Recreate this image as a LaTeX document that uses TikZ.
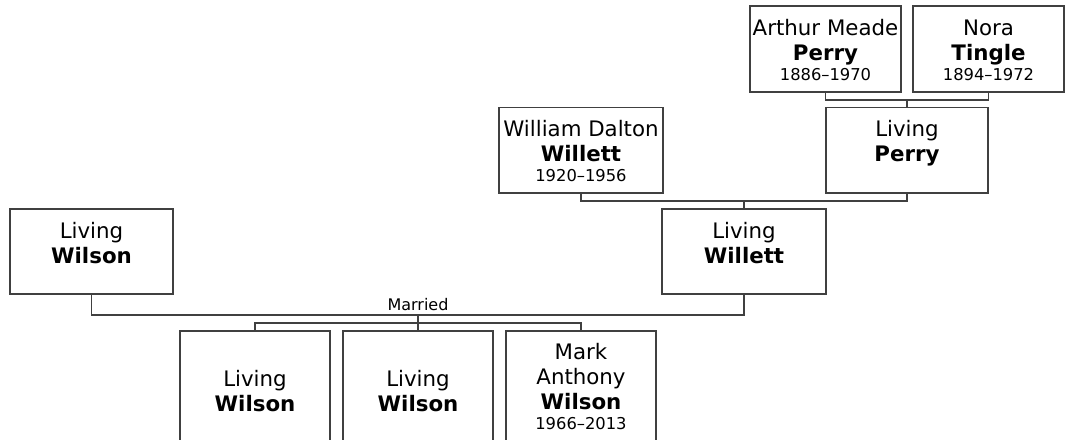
\documentclass[tikz,border=0pt]{standalone}
\usepackage{fontspec}
\setmainfont{DejaVu Sans}
\usetikzlibrary{calc}
\definecolor{linec}{HTML}{404040}
\newcommand\bigfnt{\fontsize{16pt}{18.75pt}\selectfont}
\newcommand\datefnt{\fontsize{12.25pt}{15pt}\selectfont}
\newcommand\smallfnt{\fontsize{12pt}{15pt}\selectfont}
\newcommand\pcontent[4]{\parbox[c][#2][t]{#1}{\centering\rule{0pt}{#3}#4}}
\newcommand\dline[1]{\\[-3.75pt]{\datefnt #1}}
\tikzset{
  person/.style={draw=linec, line width=1.125pt, inner sep=0pt, outer sep=0pt,
    anchor=north west, rectangle, font=\bigfnt, text=black},
  conn/.style={draw=linec, line width=1.125pt},
}
\begin{document}
\begin{tikzpicture}[x=0.75pt, y=-0.75pt]
\useasboundingbox (0,0) rectangle (1066,439);
\clip (0,0) rectangle (1066,439);
% grandparents
\node[person, minimum width=113.25pt, minimum height=64.5pt] (arthur) at (750,6)
  {\pcontent{113.25pt}{64.5pt}{21.75pt}{Arthur Meade\\\textbf{Perry}\dline{1886–1970}}};
\node[person, minimum width=113.25pt, minimum height=64.5pt] (nora) at (913,6)
  {\pcontent{113.25pt}{64.5pt}{21.75pt}{Nora\\\textbf{Tingle}\dline{1894–1972}}};
% parents
\node[person, minimum width=123pt, minimum height=64.125pt] (william) at (499,107.5)
  {\pcontent{123pt}{64.125pt}{21.75pt}{William Dalton\\\textbf{Willett}\dline{1920–1956}}};
\node[person, minimum width=121.5pt, minimum height=64.125pt] (perry) at (826,107.5)
  {\pcontent{121.5pt}{64.125pt}{21.75pt}{Living\\\textbf{Perry}}};
% couple
\node[person, minimum width=122.25pt, minimum height=63.75pt] (wilson) at (10,209)
  {\pcontent{122.25pt}{63.75pt}{21.75pt}{Living\\\textbf{Wilson}}};
\node[person, minimum width=123pt, minimum height=63.75pt] (willett) at (662,209)
  {\pcontent{123pt}{63.75pt}{21.75pt}{Living\\\textbf{Willett}}};
% children
\node[person, minimum width=112.5pt, minimum height=91.5pt] (child1) at (180,331)
  {\pcontent{112.5pt}{91.5pt}{41.75pt}{Living\\\textbf{Wilson}}};
\node[person, minimum width=112.5pt, minimum height=91.5pt] (child2) at (343,331)
  {\pcontent{112.5pt}{91.5pt}{41.75pt}{Living\\\textbf{Wilson}}};
\node[person, minimum width=112.5pt, minimum height=91.5pt] (child3) at (506,331)
  {\pcontent{112.5pt}{91.5pt}{21.25pt}{Mark\\Anthony\\\textbf{Wilson}\dline{1966–2013}}};
% junctions
\coordinate (j1) at ($(perry.north)+(0,-7.5)$);
\coordinate (j2) at ($(willett.north)+(0,-8)$);
\coordinate (m) at (418,315);
\coordinate (c) at (418,323);
% connectors
\draw[conn] (arthur.south) |- (j1) -| (nora.south);
\draw[conn] (j1) -- (perry.north);
\draw[conn] (william.south) |- (j2) -| (perry.south);
\draw[conn] (j2) -- (willett.north);
\draw[conn] (wilson.south) |- (m) -| (willett.south);
\draw[conn] (m) -- (c);
\draw[conn] (child1.north) |- (c) -| (child3.north);
\draw[conn] (c) -- (child2.north);
\node[anchor=base, inner sep=0pt, font=\smallfnt] (married) at ($(m)+(0,-4.5)$) {Married};
\end{tikzpicture}
\end{document}
